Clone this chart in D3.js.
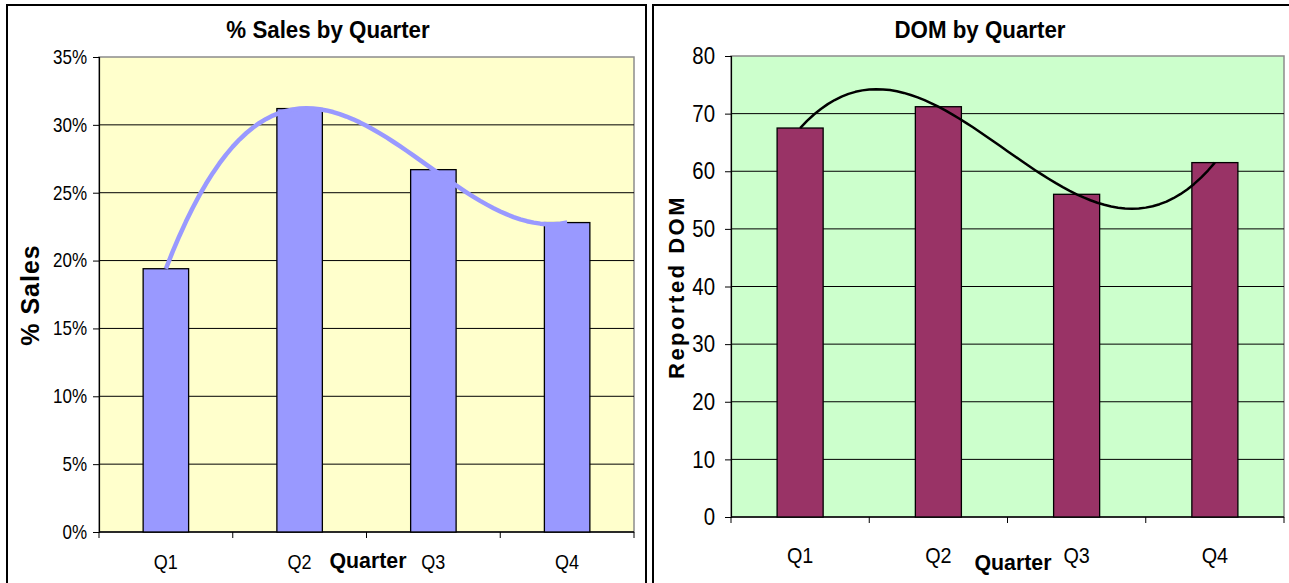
<!DOCTYPE html>
<html>
<head>
<meta charset="utf-8">
<script src="https://cdn.jsdelivr.net/npm/d3@7"></script>
<style>
  body { margin: 0; background: #ffffff; }
  text { font-family: "Liberation Sans", Arial, sans-serif; fill: #000; }
</style>
</head>
<body>
<div id="chart"></div>
<script>
// data
var quarters = ["Q1", "Q2", "Q3", "Q4"];
var salesPct = [19.4, 31.2, 26.7, 22.8];
var domDays = [67.5, 71.2, 56.0, 61.5];
var salesTicks = [0, 5, 10, 15, 20, 25, 30, 35];
var domTicks = [0, 10, 20, 30, 40, 50, 60, 70, 80];

var svg = d3.select("#chart").append("svg")
  .attr("width", 1289)
  .attr("height", 583);

/*****************
Function: polyTrend - polynomial trendline (order = n-1) through the points,
same as the excel "polynomial" trendline when there are 4 quarters
******************/
function polyTrend(values)
{
  return function(x)
  {
    var sum = 0;
    for (var i = 0; i < values.length; i++)
    {
      var term = values[i];
      for (var j = 0; j < values.length; j++)
      {
        if (j != i) term *= (x - (j + 1)) / ((i + 1) - (j + 1));
      }
      sum += term;
    }
    return sum;
  };
}

// squeezed text, the picture was stretched a little taller than wide
function label(g, str, x, y, size, opts)
{
  opts = opts || {};
  var sx = opts.sx || 1;
  var t = g.append("text")
    .attr("transform", "translate(" + x + "," + y + ")" + (opts.rotate ? " rotate(-90)" : "") +
      (opts.rotate ? " scale(1," + sx + ")" : " scale(" + sx + ",1)"))
    .attr("text-anchor", opts.anchor || "middle")
    .style("font-size", size + "px")
    .style("font-weight", opts.bold ? "bold" : "normal")
    .text(str);
  if (opts.spacing) t.style("letter-spacing", opts.spacing + "px");
  return t;
}

function drawChart(c)
{
  var g = svg.append("g");

  // outer frame of the chart object
  g.append("rect")
    .attr("x", c.box[0]).attr("y", c.box[1])
    .attr("width", c.box[2]).attr("height", c.box[3])
    .attr("fill", "#fff")
    .attr("stroke", "#000")
    .attr("stroke-width", 2);

  var x = d3.scaleBand()
    .domain(quarters)
    .range([c.left, c.right])
    .paddingInner(c.pad)
    .paddingOuter(c.pad / 2);

  var y = d3.scaleLinear()
    .domain([0, c.max])
    .range([c.bottom, c.top]);

  // plot area
  g.append("rect")
    .attr("x", c.left).attr("y", c.top)
    .attr("width", c.right - c.left).attr("height", c.bottom - c.top)
    .attr("fill", c.bg)
    .attr("stroke", "#8c8c8c")
    .attr("stroke-width", 1.5);

  // gridlines
  g.append("g")
    .selectAll("line")
    .data(c.ticks.slice(1, -1))
    .enter()
    .append("line")
    .attr("x1", c.left).attr("x2", c.right)
    .attr("y1", function(d) { return y(d); })
    .attr("y2", function(d) { return y(d); })
    .attr("stroke", "#000")
    .attr("stroke-width", 1);

  // y axis
  var yAxis = d3.axisLeft(y)
    .tickValues(c.ticks)
    .tickSize(6)
    .tickPadding(7)
    .tickFormat(c.fmt);
  var ya = g.append("g")
    .attr("transform", "translate(" + c.left + ",0)")
    .call(yAxis);
  ya.select(".domain").attr("stroke", "#000").attr("stroke-width", 1.2);
  ya.selectAll(".tick line").attr("stroke", "#000");
  ya.selectAll(".tick text")
    .style("font-size", c.tickSize + "px")
    .style("font-family", "'Liberation Sans', Arial, sans-serif")
    .attr("fill", "#000")
    .attr("transform", "scale(" + c.sx + ",1)")
    .attr("x", -c.tickGap / c.sx);

  // x axis, ticks sit between the quarters
  var edges = d3.range(quarters.length + 1).map(function(i) { return c.left + i * x.step(); });
  g.append("line")
    .attr("x1", c.left).attr("x2", c.right)
    .attr("y1", c.bottom).attr("y2", c.bottom)
    .attr("stroke", "#000").attr("stroke-width", 1.5);
  g.append("g")
    .selectAll("line")
    .data(edges)
    .enter()
    .append("line")
    .attr("x1", function(d) { return d; })
    .attr("x2", function(d) { return d; })
    .attr("y1", c.bottom).attr("y2", c.bottom + 6)
    .attr("stroke", "#000");

  quarters.forEach(function(q)
  {
    label(g, q, x(q) + x.bandwidth() / 2, c.catY, c.catSize, { sx: c.catSx });
  });

  // bars
  g.append("g")
    .selectAll("rect")
    .data(c.values)
    .enter()
    .append("rect")
    .attr("x", function(d, i) { return x(quarters[i]); })
    .attr("y", function(d) { return y(d); })
    .attr("width", x.bandwidth())
    .attr("height", function(d) { return c.bottom - y(d); })
    .attr("fill", c.barColor)
    .attr("stroke", "#000")
    .attr("stroke-width", 1.3);

  // trendline, drawn from Q1 centre to Q4 centre
  var tx = d3.scaleLinear()
    .domain([1, quarters.length])
    .range([x(quarters[0]) + x.bandwidth() / 2, x(quarters[quarters.length - 1]) + x.bandwidth() / 2]);
  var f = polyTrend(c.values);
  var pts = d3.range(1, quarters.length + 0.001, 0.05);
  g.append("path")
    .datum(pts)
    .attr("d", d3.line()
      .x(function(d) { return tx(d); })
      .y(function(d) { return y(f(d)); }))
    .attr("fill", "none")
    .attr("stroke", c.lineColor)
    .attr("stroke-width", c.lineWidth)
    .attr("stroke-linejoin", "round");

  // titles
  label(g, c.title, c.titleX, c.titleY, 24, { bold: true, sx: 0.93 });
  label(g, "Quarter", c.xTitleX, c.xTitleY, 22, { bold: true, sx: 0.97 });
  label(g, c.yTitle, c.yTitleX, c.yTitleY, c.yTitleSize, { bold: true, rotate: true, sx: 1, spacing: c.yTitleSpacing });
}

drawChart({
  box: [7, 5, 639, 600],
  left: 99, right: 634, top: 57, bottom: 532,
  pad: 0.66, max: 35,
  values: salesPct, ticks: salesTicks,
  fmt: function(d) { return d + "%"; },
  bg: "#FFFFCC", barColor: "#9999FF",
  lineColor: "#9999FF", lineWidth: 4.5,
  sx: 0.85, tickSize: 20, tickGap: 12, catSize: 20, catSx: 0.9, catY: 569,
  title: "% Sales by Quarter", titleX: 328, titleY: 38,
  xTitleX: 368, xTitleY: 568,
  yTitle: "% Sales", yTitleX: 39, yTitleY: 295, yTitleSize: 25, yTitleSpacing: 1
});

drawChart({
  box: [653, 5, 645, 600],
  left: 731, right: 1284, top: 56, bottom: 517,
  pad: 0.667, max: 80,
  values: domDays, ticks: domTicks,
  fmt: function(d) { return d; },
  bg: "#CCFFCC", barColor: "#993366",
  lineColor: "#000", lineWidth: 2.5,
  sx: 0.85, tickSize: 24, tickGap: 16, catSize: 22, catSx: 0.9, catY: 563,
  title: "DOM by Quarter", titleX: 980, titleY: 38,
  xTitleX: 1013, xTitleY: 570,
  yTitle: "Reported DOM", yTitleX: 684, yTitleY: 287, yTitleSize: 22, yTitleSpacing: 2.5
});
</script>
</body>
</html>
